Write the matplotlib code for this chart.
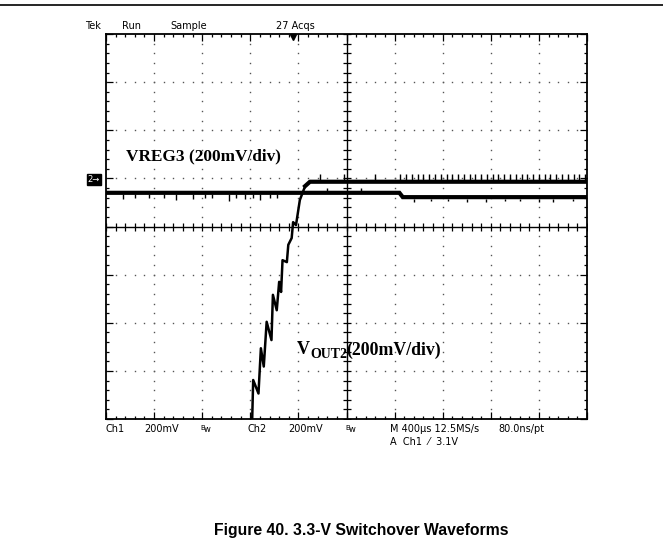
from matplotlib import use; use("Agg")
import matplotlib.pyplot as plt
import numpy as np

W, H = 663, 550

# Trace data, in screen divisions (x: 0..10, y: -4..4)
vreg3_x = [0.0, 6.10, 6.17, 10.0]
vreg3_y = [0.70, 0.70, 0.61, 0.61]
vreg3_glitch_x = [0.35, 0.6, 0.9, 1.2, 1.45, 1.8, 2.05, 2.2, 2.55, 2.7, 2.9, 3.05, 3.2, 3.4,
                  3.55, 4.6, 5.3, 6.4, 6.75, 7.1, 7.5, 7.9, 8.3, 8.6, 9.0, 9.3, 9.7]
vreg3_glitch_dy = [-0.10, -0.07, -0.08, -0.07, -0.12, -0.10, -0.07, -0.08, -0.14, -0.08, -0.10,
                   -0.07, -0.12, -0.08, -0.08, 0.08, 0.06, -0.08, -0.06, -0.06, -0.07, -0.08,
                   -0.06, -0.06, -0.07, -0.08, -0.06]

vout2_x = [2.98, 3.04, 3.06, 3.17, 3.22, 3.28, 3.34, 3.44, 3.47, 3.55, 3.60, 3.64,
           3.67, 3.76, 3.79, 3.86, 3.89, 3.95, 4.03, 4.14, 4.24, 10.0]
vout2_y = [-4.30, -3.98, -3.19, -3.47, -2.53, -2.91, -1.98, -2.36, -1.42, -1.74, -1.15, -1.36,
           -0.70, -0.74, -0.38, -0.24, 0.09, 0.03, 0.55, 0.84, 0.93, 0.93]
vout2_spike_x = [4.45, 4.95, 5.6, 6.12, 6.24, 6.36, 6.48, 6.60, 6.72, 6.84, 6.96, 7.08, 7.20,
                 7.32, 7.44, 7.56, 7.68, 7.80, 7.92, 8.04, 8.16, 8.28, 8.40, 8.52, 8.64,
                 8.76, 8.88, 9.00, 9.12, 9.24, 9.36, 9.48, 9.60, 9.72, 9.84, 9.96]
vout2_spike_dy = 0.16

trig_x = 3.89
ch2_marker_y = 1.0

top_labels = [("Tek", 85), ("Run", 122), ("Sample", 170), ("27 Acqs", 276)]
bottom_labels = [("Ch1", 106), ("200mV", 144), ("Ch2", 248), ("200mV", 288),
                 ("M 400\u00b5s 12.5MS/s", 390), ("80.0ns/pt", 498)]
bw_x = [200, 345]
caption = "Figure 40. 3.3-V Switchover Waveforms"

fig = plt.figure(figsize=(W / 100, H / 100), dpi=100)
ax = fig.add_axes([106 / W, 1 - 419 / H, 481 / W, 385 / H])
ax.set_xlim(0, 10)
ax.set_ylim(-4, 4)
for s in ax.spines.values():
    s.set_linewidth(1.3)
ax.set_xticks(np.arange(0, 11, 1))
ax.set_yticks(np.arange(-4, 5, 1))
ax.set_xticks(np.arange(0, 10.01, 0.2), minor=True)
ax.set_yticks(np.arange(-4, 4.01, 0.2), minor=True)
ax.tick_params(which="both", direction="in", top=True, right=True,
               labelbottom=False, labelleft=False, width=0.9, color="black")
ax.tick_params(which="major", length=5)
ax.tick_params(which="minor", length=2.5)

# dotted graticule
minor = np.arange(0, 10.01, 0.2)
minor_y = np.arange(-4, 4.01, 0.2)
for gy in [-3, -2, -1, 1, 2, 3]:
    ax.plot(minor, np.full_like(minor, gy), ls="none", marker="s", ms=1.0,
            mec="none", mfc="#555555")
for gx in [1, 2, 3, 4, 6, 7, 8, 9]:
    ax.plot(np.full_like(minor_y, gx), minor_y, ls="none", marker="s", ms=1.0,
            mec="none", mfc="#555555")

# center cross-hair with ticks
ax.axhline(0, color="black", lw=1.0)
ax.axvline(5, color="black", lw=1.0)
ax.plot(minor, np.zeros_like(minor), ls="none", marker="|", ms=6, mew=0.9, color="black")
ax.plot(np.full_like(minor_y, 5), minor_y, ls="none", marker="_", ms=6, mew=0.9, color="black")

# VREG3 trace
ax.plot(vreg3_x, vreg3_y, color="black", lw=3.0, solid_joinstyle="miter")
gbase = np.interp(vreg3_glitch_x, vreg3_x, vreg3_y)
gsign = np.sign(vreg3_glitch_dy)
ax.vlines(vreg3_glitch_x, gbase + gsign * 0.03, gbase + np.array(vreg3_glitch_dy) + gsign * 0.03,
          color="black", lw=1.0)

# VOUT2 trace: thin ramp, thick settled band
ramp_end = vout2_x.index(4.24)
ax.plot(vout2_x[:ramp_end + 1], vout2_y[:ramp_end + 1], color="black", lw=1.8)
ax.plot(vout2_x[ramp_end - 1:], vout2_y[ramp_end - 1:], color="black", lw=3.0)
sbase = np.interp(vout2_spike_x, vout2_x, vout2_y)
ax.vlines(vout2_spike_x, sbase, sbase + vout2_spike_dy, color="black", lw=1.0)

# trigger position marker
ax.plot([trig_x], [3.93], marker="v", ms=5, color="black", clip_on=False)


def ptext(x, y, s, **kw):
    fig.text(x / W, 1 - y / H, s, **kw)


tekfont = ["Liberation Sans Narrow", "DejaVu Sans"]
for s, x in top_labels:
    ptext(x, 26, s, fontsize=7, family=tekfont, va="center")
for s, x in bottom_labels:
    ptext(x, 429, s, fontsize=7, family=tekfont, va="center")
for x in bw_x:
    ptext(x, 428, "B", fontsize=5, family=tekfont, va="center")
    ptext(x + 4, 430, "w", fontsize=6, family=tekfont, va="center")
ptext(390, 442, "A  Ch1  \u2044  3.1V", fontsize=7, family=tekfont, va="center")

# channel 2 ground marker
ptext(94, 226.5 - ch2_marker_y * 48.1 + 1, "2\u2192", fontsize=6, color="white",
      family="DejaVu Sans", ha="center", va="center",
      bbox=dict(boxstyle="square,pad=0.15", fc="black", ec="black"))

# annotations
serif = ["Liberation Serif", "DejaVu Serif"]
ptext(126, 156, "VREG3 (200mV/div)", fontsize=12.4, fontweight="bold", family=serif, va="center")
ptext(297, 350, "V", fontsize=13, fontweight="bold", family=serif, va="center")
ptext(310, 354, "OUT2", fontsize=10, fontweight="bold", family=serif, va="center")
ptext(346, 350, "(200mV/div)", fontsize=12.8, fontweight="bold", family=serif, va="center")

# caption and top rule
ptext(361, 531, caption, fontsize=11.3, fontweight="bold", family="Liberation Sans",
      ha="center", va="center")
fig.add_artist(plt.Line2D([0, 1], [1 - 5 / H, 1 - 5 / H], color="black", lw=1.2,
                          transform=fig.transFigure))

fig.savefig("out.png", dpi=100)
